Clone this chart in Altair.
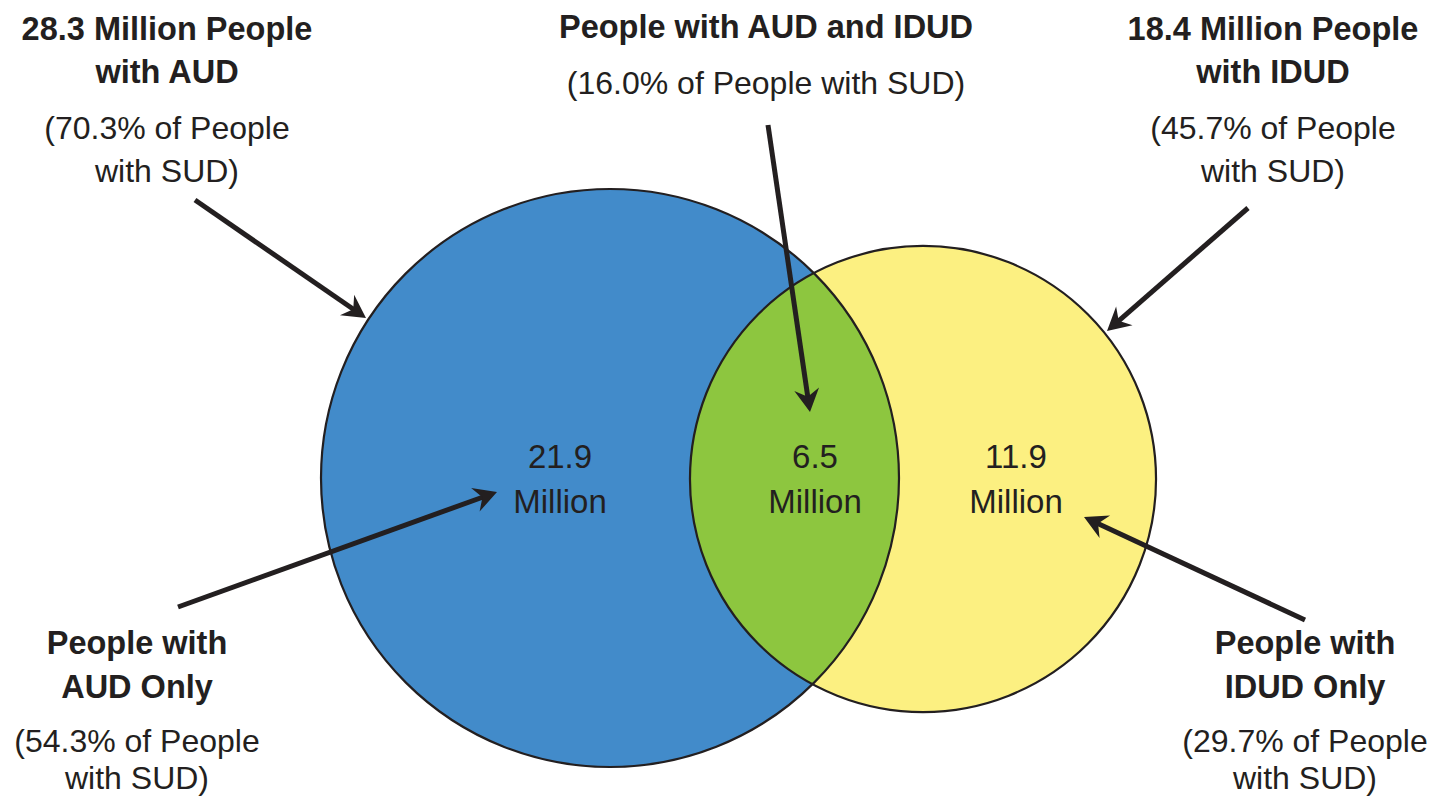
import numpy as np
import pandas as pd
import altair as alt

# ---------------- data ----------------
set_names = ["AUD", "IDUD"]
set_totals = [28.3, 18.4]            # million people with each disorder
set_pcts = [70.3, 45.7]              # % of people with SUD
region_names = ["AUD Only", "AUD and IDUD", "IDUD Only"]
region_values = [21.9, 6.5, 11.9]    # million people in each region
region_pcts = [54.3, 16.0, 29.7]     # % of people with SUD

# ---------------- style / layout ----------------
set_colors = ["#428BCA", "#FCF081"]
overlap_color = "#8DC63F"
ink = "#231F20"
FONT = "Liberation Sans, Arial, Helvetica, sans-serif"
BIG_RADIUS = 289.0                   # px radius of the larger set
centers_x = [610.0, 923.0]
centers_y = [478.0, 479.0]

radii = [BIG_RADIUS * np.sqrt(v / max(set_totals)) for v in set_totals]

circles = pd.DataFrame({
    "name": set_names,
    "x": centers_x,
    "y": centers_y,
    "s": [(2 * r) ** 2 for r in radii],
    "c": set_colors,
})

# lens (intersection) outline from the two circles' geometry
xl = centers_x[1] - radii[1]
xr = centers_x[0] + radii[0]
xs = np.linspace(xl, xr, 400)
def half(xv, cx, r):
    return np.sqrt(np.clip(r ** 2 - (xv - cx) ** 2, 0, None))
top = np.maximum(centers_y[0] - half(xs, centers_x[0], radii[0]),
                 centers_y[1] - half(xs, centers_x[1], radii[1]))
bot = np.minimum(centers_y[0] + half(xs, centers_x[0], radii[0]),
                 centers_y[1] + half(xs, centers_x[1], radii[1]))
lens = pd.DataFrame({"x": xs, "y": top, "y2": bot})

# arrows: start -> tip
arrow_start = [(195, 200), (178, 607), (768, 125), (1248, 208), (1305, 620)]
arrow_tip = [(366, 318), (497, 492), (810, 412), (1107, 331), (1084, 517)]
rows = []
for (sx, sy), (tx, ty) in zip(arrow_start, arrow_tip):
    dx, dy = tx - sx, ty - sy
    L = np.hypot(dx, dy)
    ux, uy = dx / L, dy / L
    ang = np.degrees(np.arctan2(dx, -dy)) % 360
    rows.append({"x": sx, "y": sy, "x2": tx - 14 * ux, "y2": ty - 14 * uy,
                 "tx": tx, "ty": ty, "a": ang})
arrows = pd.DataFrame(rows)

# text blocks
bold_lines = [
    (f"{set_totals[0]} Million People", 167, 40),
    (f"with {set_names[0]}", 167, 83),
    (f"People with {region_names[1]}", 766, 38),
    (f"{set_totals[1]} Million People", 1273, 40),
    (f"with {set_names[1]}", 1273, 83),
    ("People with", 137, 654),
    (region_names[0], 137, 698),
    ("People with", 1305, 654),
    (region_names[2], 1305, 698),
]
reg_lines = [
    (f"({set_pcts[0]}% of People", 167, 139),
    ("with SUD)", 167, 182),
    (f"({region_pcts[1]:.1f}% of People with SUD)", 766, 94),
    (f"({set_pcts[1]}% of People", 1273, 139),
    ("with SUD)", 1273, 182),
    (f"({region_pcts[0]}% of People", 137, 752),
    ("with SUD)", 137, 789),
    (f"({region_pcts[2]}% of People", 1305, 752),
    ("with SUD)", 1305, 789),
]
region_x = [560, 815, 1016]
center_lines = []
for v, x in zip(region_values, region_x):
    center_lines.append((f"{v}", x, 468))
    center_lines.append(("Million", x, 513))

bold_df = pd.DataFrame(bold_lines, columns=["t", "x", "y"])
reg_df = pd.DataFrame(reg_lines, columns=["t", "x", "y"])
ctr_df = pd.DataFrame(center_lines, columns=["t", "x", "y"])

# ---------------- chart ----------------
XS = alt.Scale(domain=[8, 1432], nice=False, zero=False)
YS = alt.Scale(domain=[8, 798], nice=False, zero=False, reverse=True)
X = alt.X("x:Q", scale=XS, axis=None)
Y = alt.Y("y:Q", scale=YS, axis=None)

fills = alt.Chart(circles).mark_point(shape="circle", filled=True, opacity=1, strokeWidth=0).encode(
    x=X, y=Y,
    size=alt.Size("s:Q", scale=None),
    color=alt.Color("c:N", scale=None),
)
lens_layer = alt.Chart(lens).mark_area(color=overlap_color, opacity=1, interpolate="linear").encode(
    x=X, y=Y, y2=alt.Y2("y2:Q"),
)
outlines = alt.Chart(circles).mark_point(shape="circle", filled=False, opacity=1, strokeWidth=2.2).encode(
    x=X, y=Y,
    size=alt.Size("s:Q", scale=None),
    color=alt.value(ink),
)
shafts = alt.Chart(arrows).mark_rule(strokeWidth=5, color=ink).encode(
    x=X, y=Y, x2=alt.X2("x2:Q"), y2=alt.Y2("y2:Q"),
)
heads = alt.Chart(arrows).mark_point(
    shape="M0,0L1.25,2.3L0,1.55L-1.25,2.3Z", filled=True, opacity=1, strokeWidth=0, color=ink
).encode(
    x=alt.X("tx:Q", scale=XS, axis=None),
    y=alt.Y("ty:Q", scale=YS, axis=None),
    angle=alt.Angle("a:Q", scale=None),
    size=alt.value(400),
)
bold_txt = alt.Chart(bold_df).mark_text(
    align="center", baseline="alphabetic", font=FONT, fontWeight="bold", fontSize=32.5, color=ink
).encode(x=X, y=Y, text="t:N")
reg_txt = alt.Chart(reg_df).mark_text(
    align="center", baseline="alphabetic", font=FONT, fontSize=32, color=ink
).encode(x=X, y=Y, text="t:N")
ctr_txt = alt.Chart(ctr_df).mark_text(
    align="center", baseline="alphabetic", font=FONT, fontSize=33, color=ink
).encode(x=X, y=Y, text="t:N")

chart = alt.layer(
    fills, lens_layer, outlines, shafts, heads, bold_txt, reg_txt, ctr_txt
).properties(
    width=1424, height=790, padding=0,
    autosize=alt.AutoSizeParams(type="none"),
    background="white",
).configure_view(stroke=None)

chart.save("out.html", embed_options={"renderer": "svg", "actions": False})
